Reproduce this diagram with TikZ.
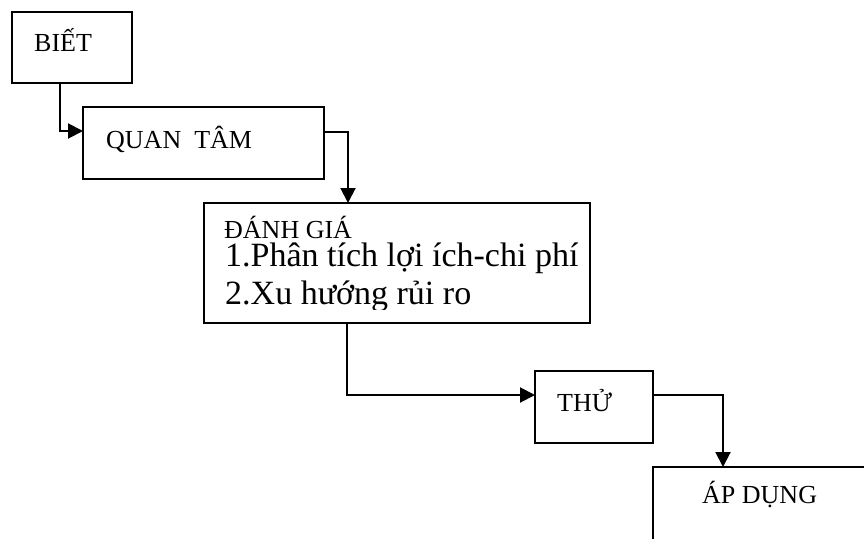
\documentclass[tikz,border=0pt]{standalone}
\usepackage{fontspec}
\setmainfont{Liberation Serif}
\usetikzlibrary{arrows.meta}
\begin{document}
\begin{tikzpicture}[x=1pt,y=-1pt,
  box/.style={draw,line width=2pt,inner sep=0,outer sep=0,anchor=north west},
  lbl/.style={inner sep=0,anchor=base west,font=\fontsize{26}{30}\selectfont},
  big/.style={inner sep=0,anchor=base west,text height=24pt,font=\fontsize{34}{40}\selectfont},
  conn/.style={line width=2pt,-{Triangle[length=15pt,width=15pt]}}]
\useasboundingbox (0,0) rectangle (864,538);
\clip (0,0) rectangle (864,538);
% boxes
\node[box,minimum width=120pt,minimum height=71pt] (biet) at (12,12) {};
\node[box,minimum width=241pt,minimum height=72pt] (quan) at (83,107) {};
\node[box,minimum width=386pt,minimum height=120pt] (danh) at (204,203) {};
\node[box,minimum width=118pt,minimum height=72pt] (thu) at (535,371) {};
\node[box,minimum width=240pt,minimum height=100pt] (ap) at (653,467) {};
% labels
\node[lbl] (tbiet) at (34,51) {BIẾT};
\node[lbl] (tquan) at (106,148) {QUAN\ \ TÂM};
\node[lbl] (tdanh) at (224,238) {ĐÁNH GIÁ};
\node[big] (tl1) at (225,266) {1.Phân tích lợi ích-chi phí};
\begin{scope}
\clip (204,203) rectangle (590,309);
\node[big] (tl2) at (225,304) {2.Xu hướng rủi ro};
\end{scope}
\node[lbl] (tthu) at (557,411) {THỬ};
\node[lbl] (tap) at (702,503) {ÁP DỤNG};
% connectors
\draw[conn] ([xshift=48pt]biet.south west) |- ([yshift=-24pt]quan.north west);
\draw[conn] ([yshift=-25pt]quan.north east) -| ([xshift=144pt]danh.north west);
\draw[conn] ([xshift=143pt]danh.south west) |- ([yshift=-24pt]thu.north west);
\draw[conn] ([yshift=-24pt]thu.north east) -| ([xshift=70pt]ap.north west);
\end{tikzpicture}
\end{document}
